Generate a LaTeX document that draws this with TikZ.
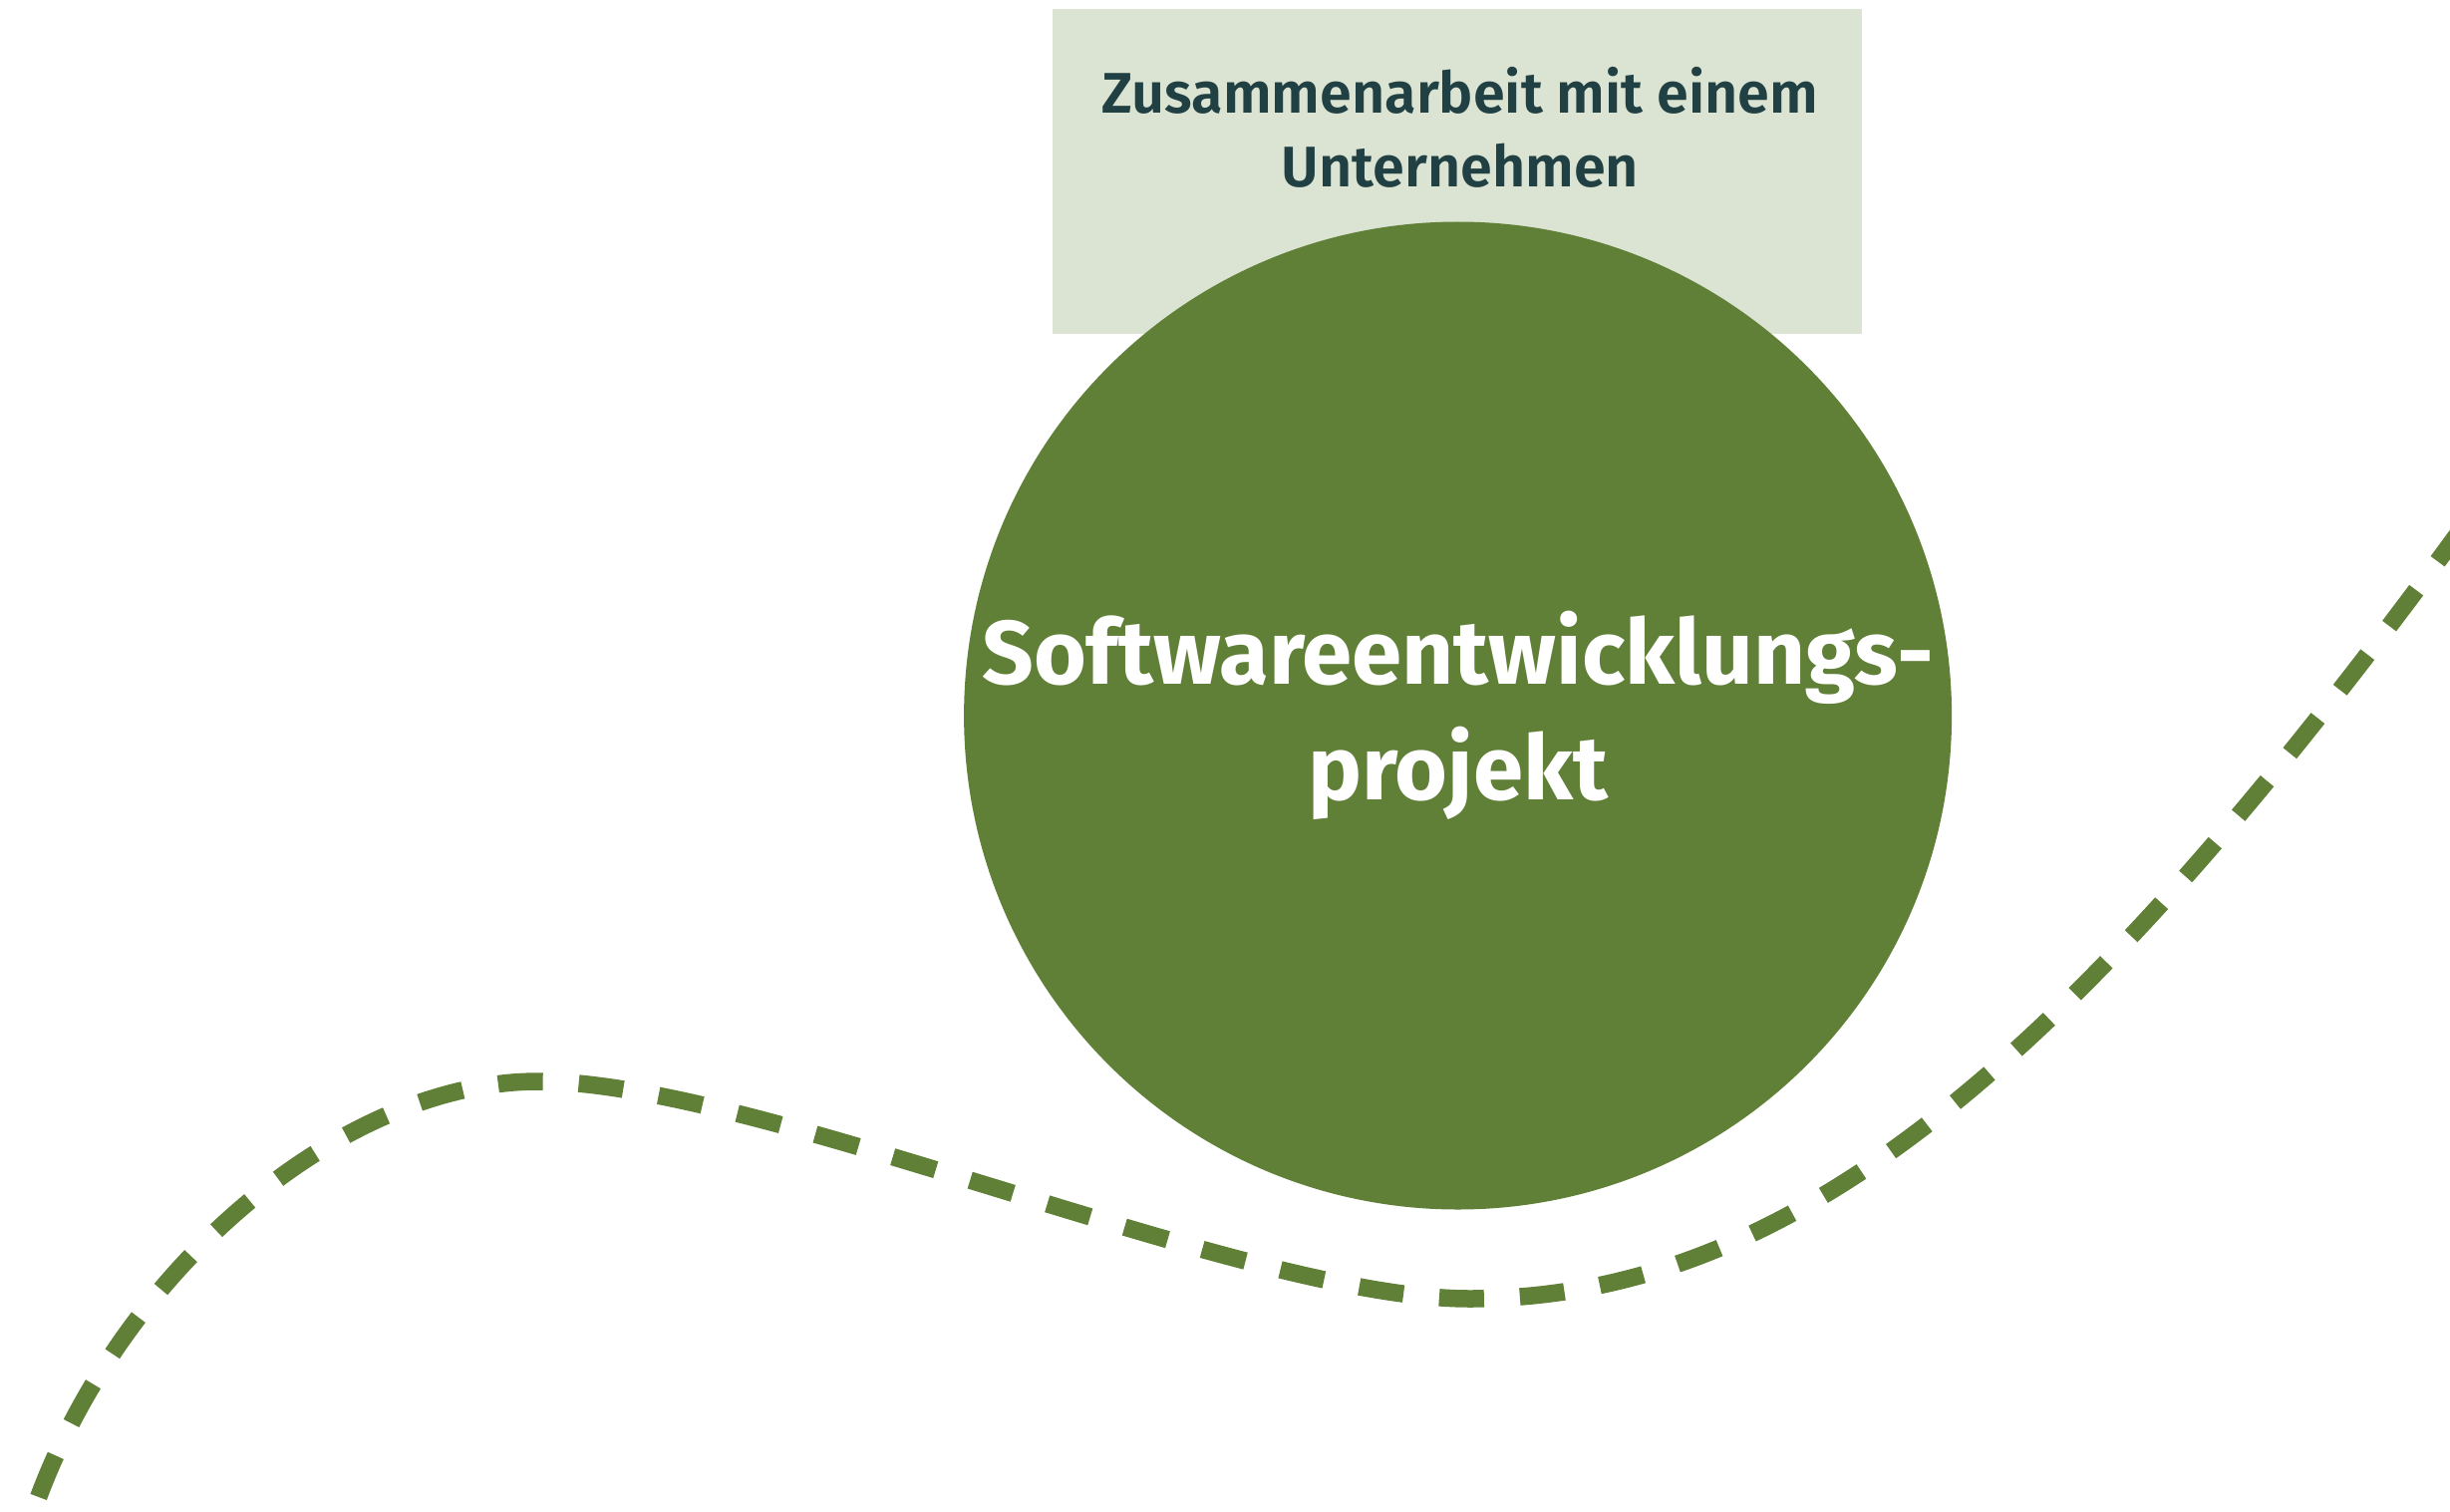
\documentclass[tikz,border=0pt]{standalone}
\usepackage{fontspec}
\usepackage{xcolor}
\usepackage{tikz}
\usetikzlibrary{positioning}
\setmainfont{Fira Sans}
\newfontfamily\boxfont{Fira Sans SemiBold}
\definecolor{mossgreen}{RGB}{96, 128, 55}
\definecolor{palesage}{RGB}{219, 227, 210}
\definecolor{darkteal}{RGB}{33, 64, 67}

\begin{document}
\begin{tikzpicture}[
    x=1pt, y=-1pt,
    topbox/.style={rectangle, fill=palesage, minimum width=812pt, minimum height=326pt, inner sep=0pt},
    boxtext/.style={text=darkteal, align=center, font=\boxfont\fontsize{57.5}{74}\selectfont},
    bigcircle/.style={circle, fill=mossgreen, minimum size=991pt, inner sep=0pt, text=white, align=center, font=\bfseries\fontsize{90.5}{116}\selectfont},
    wavepath/.style={draw=mossgreen, line width=17.5pt, dash pattern=on 45pt off 36pt, dash phase=20pt}
]
\useasboundingbox (0,0) rectangle (2458,1517);

\node[topbox] (company) at (1462,172) {};
\node[boxtext] (companytext) at (1465,128) {Zusammenarbeit mit einem\\Unternehmen};
\node[bigcircle] (project) at (1462.6,718) {Softwareentwicklungs-\\projekt};

% dashed path
\begin{scope}
\clip (0,0) rectangle (2458,1517);
\coordinate (start) at (20,1560);
\coordinate (peak) at (540,1085);
\coordinate (low) at (1474,1303);
\coordinate (finish) at (2470,530);
\draw[wavepath] (start) .. controls (90,1300) and (330,1085) .. (peak)
  .. controls (760,1085) and (1250,1303) .. (low)
  .. controls (1800,1303) and (2080,1064) .. (finish);
\end{scope}

\end{tikzpicture}
\end{document}
